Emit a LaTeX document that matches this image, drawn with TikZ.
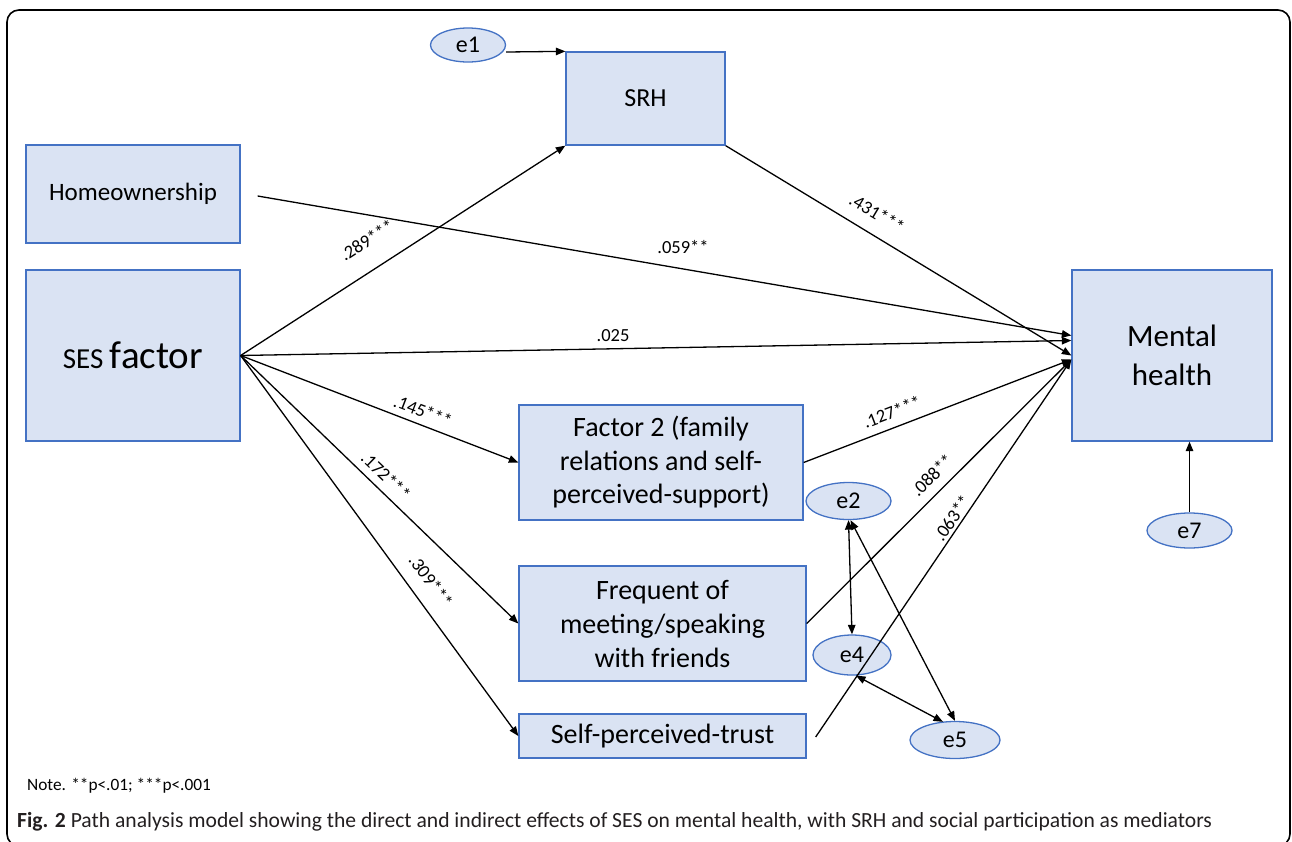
\documentclass[tikz,border=0pt]{standalone}
\usepackage{fontspec}
\setmainfont{Carlito}
\usetikzlibrary{arrows.meta,calc,shapes.geometric}
\definecolor{boxfill}{HTML}{DAE3F3}
\definecolor{boxdraw}{HTML}{4472C4}
\definecolor{captxt}{HTML}{231F20}
\newcommand{\fsz}[1]{\fontsize{#1}{#1}\selectfont}
\begin{document}
\begin{tikzpicture}[x=1pt,y=-1pt,
  box/.style={draw=boxdraw, fill=boxfill, line width=1.3pt, align=center, inner sep=0pt},
  err/.style={ellipse, draw=boxdraw, fill=boxfill, line width=1.3pt, inner sep=0pt, font=\fsz{24}},
  arr/.style={line width=1.3pt, -{Triangle[length=9.5pt,width=7.5pt]}},
  darr/.style={line width=1.3pt, {Triangle[length=9.5pt,width=7.5pt]}-{Triangle[length=9.5pt,width=7.5pt]}},
  coef/.style={font=\fsz{18.5}, inner sep=0pt}
]
\useasboundingbox (0,0) rectangle (1292,841);
\draw[line width=1.6pt, rounded corners=12pt] (7,10) rectangle (1290,846);

% boxes
\node[box, minimum width=214pt, minimum height=98pt, font=\fsz{25}] (home) at (133,194) {Homeownership};
\node[box, minimum width=214pt, minimum height=171pt] (ses) at (133,355.5) {\fsz{29}SES \fsz{39}factor};
\node[box, minimum width=159pt, minimum height=93pt, font=\fsz{26}] (srh) at (645.5,98.5) {SRH};
\node[box, minimum width=200pt, minimum height=171pt, font=\fontsize{31}{39}\selectfont] (mh) at (1172,355.5) {Mental\\health};
\node[box, minimum width=284pt, minimum height=115pt, font=\fontsize{28}{33.5}\selectfont] (f2) at (661,462.5) {Factor 2 (family\\relations and self-\\perceived-support)};
\node[box, minimum width=287pt, minimum height=115pt, font=\fontsize{28}{34}\selectfont] (freq) at (662.5,623.5) {Frequent of\\meeting/speaking\\with friends};
\node[box, minimum width=287pt, minimum height=44pt, font=\fsz{28}] (trust) at (662.5,736) {Self-perceived-trust};

% error terms
\node[err, minimum width=75pt, minimum height=34pt] (e1) at (468,45) {e1};
\node[err, minimum width=85pt, minimum height=37pt] (e2) at (848.5,501) {e2};
\node[err, minimum width=78pt, minimum height=40pt] (e4) at (852,655) {e4};
\node[err, minimum width=90pt, minimum height=37pt] (e5) at (955,740) {e5};
\node[err, minimum width=85pt, minimum height=35pt] (e7) at (1189.5,530.5) {e7};

% connectors
\draw[arr] ($(e1.east)+(0,7)$) -- (srh.north west);
\draw[arr] (ses.east) -- (srh.south west);
\draw[arr] ($(home.east)+(17,2)$) -- ($(mh.west)+(0,-20)$);
\draw[arr] (ses.east) -- ($(mh.west)+(0,-15)$);
\draw[arr] (srh.south east) -- (mh.west);
\draw[arr] (ses.east) -- (f2.west);
\draw[arr] (ses.east) -- (freq.west);
\draw[arr] (ses.east) -- (trust.west);
\draw[arr] (f2.east) -- ($(mh.west)+(0,4)$);
\draw[arr] (freq.east) -- ($(mh.west)+(0,4)$);
\draw[arr] ($(trust.east)+(9,1)$) -- ($(mh.west)+(0,4)$);
\draw[arr] (e7.north) -- (e7.north |- mh.south);
\draw[darr] (e2.south) -- (e4.north);
\draw[darr] ($(e2.south)+(2,0)$) -- (e5.north);
\draw[darr] ($(e4.south)+(4,0)$) -- ($(e5.north)+(-12,1)$);

% coefficients
\node[coef, rotate=33] (c289) at (367,240) {.289***};
\node[coef] (c059) at (683,247) {.059**};
\node[coef] (c025) at (613,336) {.025};
\node[coef, rotate=-31] (c431) at (877,213) {.431***};
\node[coef, rotate=-21] (c145) at (423,411) {.145***};
\node[coef, rotate=-44] (c172) at (386,476) {.172***};
\node[coef, rotate=-54] (c309) at (431,581) {.309***};
\node[coef, rotate=21] (c127) at (892,412) {.127***};
\node[coef, rotate=45] (c088) at (932,475) {.088**};
\node[coef, rotate=55.5] (c063) at (952,518) {.063**};

% note and caption
\node[anchor=west, inner sep=0pt, font=\fsz{17.3}] (note) at (27,786) {Note. **p<.01; ***p<.001};
\node[anchor=west, inner sep=0pt, font=\fsz{21.6}, text=captxt] (cap) at (17,822) {\textbf{Fig. 2} Path analysis model showing the direct and indirect effects of SES on mental health, with SRH and social participation as mediators};
\end{tikzpicture}
\end{document}
